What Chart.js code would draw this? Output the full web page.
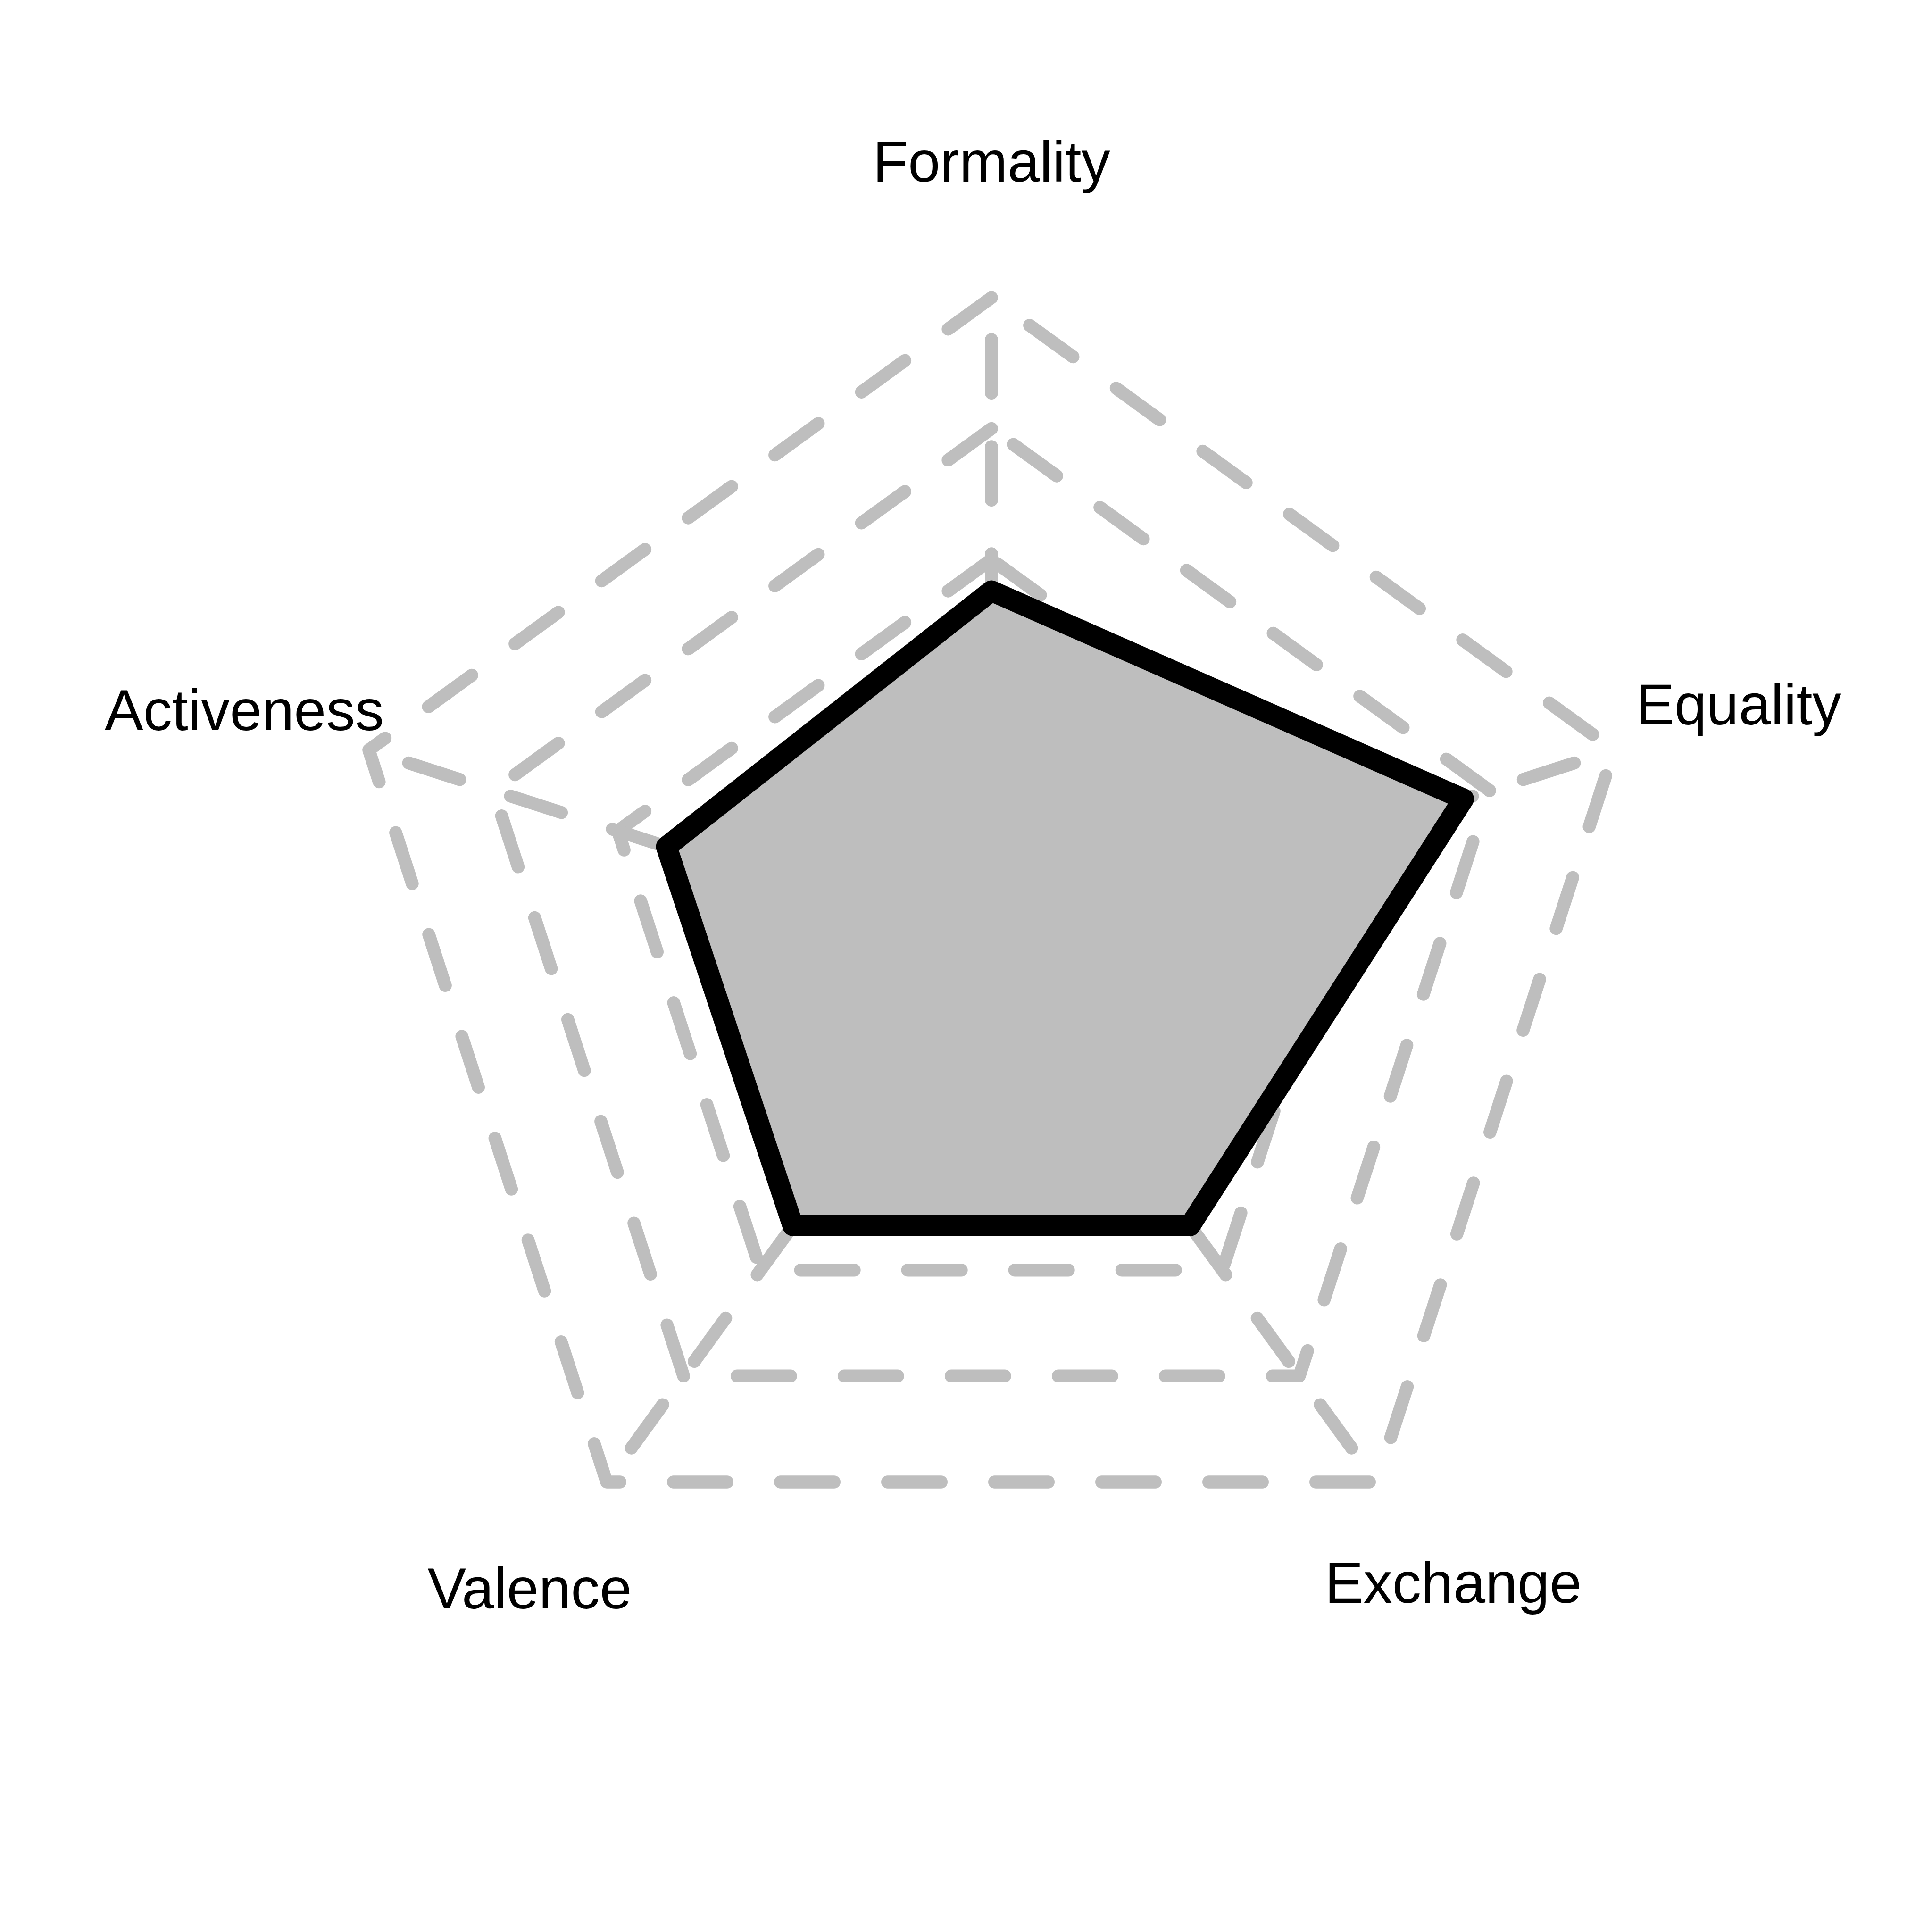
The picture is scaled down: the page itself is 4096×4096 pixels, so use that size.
<!DOCTYPE html>
<html>
<head>
<meta charset="utf-8">
<script src="https://cdn.jsdelivr.net/npm/chart.js@4/dist/chart.umd.min.js"></script>
<style>
  html, body { margin: 0; padding: 0; background: #ffffff; }
  #wrap { position: relative; width: 4096px; height: 4096px; }
</style>
</head>
<body>
<div id="wrap"><canvas id="c"></canvas></div>
<script>
// ---- data ----
const labels = ['Formality', 'Equality', 'Exchange', 'Valence', 'Activeness'];
const values = [2.76, 3.79, 2.58, 2.58, 2.61];
const scaleMin = 0;
const scaleMax = 5;
const scaleStep = 1;

// ---- style ----
const GRID_COLOR = '#BEBEBE';
const FILL_COLOR = '#BEBEBE';
const LINE_COLOR = '#000000';
const GRID_WIDTH = 27.5;
const DATA_WIDTH = 44.6;
const DASH = 113.5;           // on = off
const PERIOD = 2 * DASH;
const LABEL_FONT = '122.4px "Liberation Sans", Arial, sans-serif';

function mod(a, m) { return ((a % m) + m) % m; }

// ring dash phase: pattern starts "on" at the top vertex, running counter-clockwise
function ringOffset(ctx) {
  const s = ctx.scale;
  if (!s || !ctx.tick) return 0;
  const r = s.getDistanceFromCenterForValue(ctx.tick.value);
  const P = 10 * r * Math.sin(Math.PI / 5);
  return mod(DASH - P, PERIOD);
}
// axis dash phase: pattern starts "on" at the innermost ring (value 1)
function axisOffset(ctx) {
  const s = ctx.scale;
  if (!s) return 0;
  const start = s.getDistanceFromCenterForValue(scaleMin + scaleStep);
  return mod(-start, PERIOD);
}

const roundStrokes = {
  id: 'roundStrokes',
  beforeDraw(chart) {
    chart.ctx.lineCap = 'round';
    chart.ctx.lineJoin = 'round';
  }
};

const axisTitles = {
  id: 'axisTitles',
  afterDraw(chart) {
    const s = chart.scales.r;
    const ctx = chart.ctx;
    ctx.save();
    ctx.font = LABEL_FONT;
    ctx.fillStyle = '#000000';
    ctx.textAlign = 'center';
    ctx.textBaseline = 'alphabetic';
    labels.forEach((t, i) => {
      const p = s.getPointPosition(i, s.drawingArea * 1.2);
      const m = ctx.measureText(t);
      const y = p.y + (m.actualBoundingBoxAscent - m.actualBoundingBoxDescent) / 2;
      ctx.fillText(t, p.x, y);
    });
    ctx.restore();
  }
};

new Chart(document.getElementById('c'), {
  type: 'radar',
  data: {
    labels: labels,
    datasets: [{
      data: values,
      backgroundColor: FILL_COLOR,
      borderColor: LINE_COLOR,
      borderWidth: DATA_WIDTH,
      borderJoinStyle: 'round',
      fill: true,
      pointRadius: 0,
      pointHoverRadius: 0,
      tension: 0
    }]
  },
  options: {
    responsive: true,
    maintainAspectRatio: false,
    devicePixelRatio: 1,
    animation: false,
    events: [],
    layout: { padding: { left: 714, right: 606, top: 631, bottom: 689 } },
    plugins: { legend: { display: false }, tooltip: { enabled: false } },
    scales: {
      r: {
        min: scaleMin,
        max: scaleMax,
        ticks: { stepSize: scaleStep, display: false },
        pointLabels: { display: false },
        grid: {
          color: GRID_COLOR,
          lineWidth: GRID_WIDTH,
          borderDash: [DASH, DASH],
          borderDashOffset: ringOffset
        },
        border: {
          dash: [DASH, DASH],
          dashOffset: ringOffset
        },
        angleLines: {
          display: true,
          color: GRID_COLOR,
          lineWidth: GRID_WIDTH,
          borderDash: [DASH, DASH],
          borderDashOffset: axisOffset
        }
      }
    }
  },
  plugins: [roundStrokes, axisTitles]
});
</script>
</body>
</html>
